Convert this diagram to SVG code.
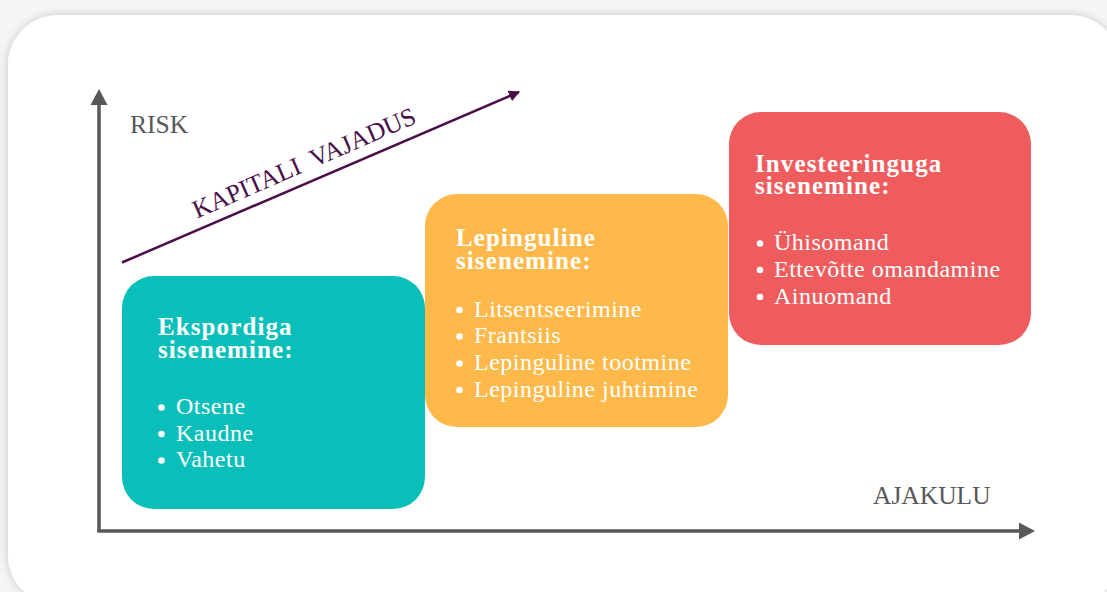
<svg xmlns="http://www.w3.org/2000/svg" width="1107" height="592" viewBox="0 0 1107 592">
<defs>
<filter id="sh" x="-5%" y="-5%" width="110%" height="110%">
<feGaussianBlur in="SourceAlpha" stdDeviation="5"/>
<feComponentTransfer><feFuncA type="linear" slope="0.2"/></feComponentTransfer>
<feMerge><feMergeNode/><feMergeNode in="SourceGraphic"/></feMerge>
</filter>
<marker id="ah" viewBox="0 0 10 10" refX="9" refY="5" markerWidth="4.5" markerHeight="4.5" orient="auto" markerUnits="strokeWidth">
<path d="M0,0 L10,5 L0,10 z" fill="#4a0f49"/>
</marker>
</defs>
<style>
.ax{fill:none;stroke:#58585b;stroke-width:3.5}
.axh{fill:#58585b}
.lbl{font-family:"Liberation Serif","Times New Roman",serif;font-size:25.5px;fill:#58585b}
.cap{font-family:"Liberation Serif","Times New Roman",serif;font-size:25.5px;fill:#4a0f49}
.hd{font-family:"Liberation Serif","Times New Roman",serif;font-size:25px;font-weight:bold;fill:#ffffff;letter-spacing:1.1px}
.it{font-family:"Liberation Serif","Times New Roman",serif;font-size:24px;fill:#ffffff;letter-spacing:0.5px}
.dot{fill:#ffffff}
</style>
<rect x="0" y="0" width="1107" height="592" fill="#f5f5f5"/>
<rect x="8" y="15" width="1112" height="590" rx="50" fill="#ffffff" filter="url(#sh)"/>

<g id="connectors">
<line class="ax" x1="99" y1="104" x2="99" y2="532"/>
<path class="axh" d="M99,89 L107.5,105 L90.5,105 z"/>
<line class="ax" x1="97.5" y1="531" x2="1021" y2="531"/>
<path class="axh" d="M1035,531 L1019,522.5 L1019,539.5 z"/>
<line x1="122" y1="262.5" x2="519" y2="92" stroke="#4a0f49" stroke-width="2.5" marker-end="url(#ah)"/>
</g>

<g id="labels">
<text class="lbl" x="130" y="133">RISK</text>
<text class="lbl" x="873" y="504">AJAKULU</text>
<text class="cap" xml:space="preserve" transform="translate(197,218.5) rotate(-23.5)">KAPITALI  VAJADUS</text>
</g>

<g id="node-eksport">
<rect x="122" y="276" width="303" height="233" rx="32" fill="#0abfba"/>
<text class="hd" x="158" y="335">Ekspordiga</text>
<text class="hd" x="158" y="358">sisenemine:</text>
<circle class="dot" cx="161.5" cy="407.5" r="3.3"/><text class="it" x="176" y="414">Otsene</text>
<circle class="dot" cx="161.5" cy="434" r="3.3"/><text class="it" x="176" y="441">Kaudne</text>
<circle class="dot" cx="161.5" cy="460.5" r="3.3"/><text class="it" x="176" y="467">Vahetu</text>
</g>

<g id="node-leping">
<rect x="425" y="194" width="303" height="233" rx="32" fill="#feb94a"/>
<text class="hd" x="456" y="245.5">Lepinguline</text>
<text class="hd" x="456" y="268.5">sisenemine:</text>
<circle class="dot" cx="459.5" cy="310" r="3.3"/><text class="it" x="474" y="316.5">Litsentseerimine</text>
<circle class="dot" cx="459.5" cy="336.5" r="3.3"/><text class="it" x="474" y="343">Frantsiis</text>
<circle class="dot" cx="459.5" cy="363.5" r="3.3"/><text class="it" x="474" y="370">Lepinguline tootmine</text>
<circle class="dot" cx="459.5" cy="390" r="3.3"/><text class="it" x="474" y="396.5">Lepinguline juhtimine</text>
</g>

<g id="node-invest">
<rect x="729" y="112" width="302" height="233" rx="32" fill="#ef5c5d"/>
<text class="hd" x="755" y="171.5">Investeeringuga</text>
<text class="hd" x="755" y="194">sisenemine:</text>
<circle class="dot" cx="760" cy="243.5" r="3.3"/><text class="it" x="774" y="250">Ühisomand</text>
<circle class="dot" cx="760" cy="270" r="3.3"/><text class="it" x="774" y="276.5">Ettevõtte omandamine</text>
<circle class="dot" cx="760" cy="297" r="3.3"/><text class="it" x="774" y="303.5">Ainuomand</text>
</g>
</svg>
